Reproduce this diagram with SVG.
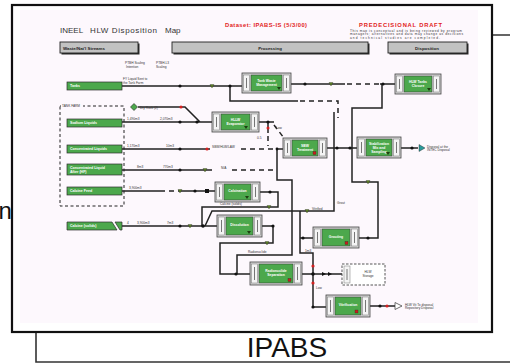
<svg xmlns="http://www.w3.org/2000/svg" width="510" height="364" viewBox="0 0 510 364">
<defs>
<style>
.frame{fill:#fff;stroke:#111;stroke-width:2.2}
.back{fill:none;stroke:#333;stroke-width:1.6}
.bar{fill:#c2c2c2;stroke:#222;stroke-width:0.9}
.sh{fill:#2a2a2a}
.bt{font-family:"Liberation Sans",Arial,sans-serif;font-weight:bold;font-size:4.4px;fill:#222}
.src{fill:#4ca84c;stroke:#2e2e2e;stroke-width:0.7}
.st{font-family:"Liberation Sans",Arial,sans-serif;font-weight:bold;font-size:3.6px;fill:#fff}
.pn{fill:#d6d6d6;stroke:#444;stroke-width:0.8}
.tab{fill:#f4f4f4;stroke:#777;stroke-width:0.5}
.tl{stroke:#555;stroke-width:0.8}
.grn{fill:#4ca84c;stroke:#333;stroke-width:0.5}
.pt{font-family:"Liberation Sans",Arial,sans-serif;font-weight:bold;font-size:3.4px;fill:#fff;text-anchor:middle}
.ln{fill:none;stroke:#222;stroke-width:1.5}
.dl{fill:none;stroke:#222;stroke-width:1.5;stroke-dasharray:5 4}
.dot{fill:#111}
.rd{fill:#d42020}
.gt{fill:#5c7f22;stroke:#222;stroke-width:0.3}
.mk{fill:#1f3f12}
.ms{fill:#c81e1e;stroke:#222;stroke-width:0.3}
.lbl{font-family:"Liberation Sans",Arial,sans-serif;font-size:3.2px;fill:#333}
.red{font-family:"Liberation Sans",Arial,sans-serif;font-weight:bold;fill:#e21b1b}
</style>
</defs>

<!-- back panel -->
<g id="back-panel">
<path class="back" d="M492 35 H512 M36 332 V362 H512"/>
<text x="287" y="357" text-anchor="middle" font-family="'Liberation Sans',Arial,sans-serif" font-size="28" fill="#111">IPABS</text>
</g>
<text x="-1.5" y="219" font-family="'Liberation Sans',Arial,sans-serif" font-size="24" fill="#111">n</text>

<!-- front panel -->
<g id="front-panel">
<rect class="frame" x="12" y="5" width="480" height="327"/>
<rect x="20" y="10" width="458" height="313" fill="#fdf8fd"/>
</g>

<!-- headings -->
<g id="title">
<text x="60" y="33" font-family="'Liberation Sans',Arial,sans-serif" font-size="8" fill="#333">INEEL</text>
<text x="90" y="33" font-family="'Liberation Sans',Arial,sans-serif" font-size="8" fill="#333" textLength="67">HLW Disposition</text>
<text x="165" y="33" font-family="'Liberation Sans',Arial,sans-serif" font-size="8" fill="#333">Map</text>
<text class="red" x="225" y="27" font-size="5.8" textLength="82">Dataset: IPABS-IS (5/3/00)</text>
<text class="red" x="359" y="27" font-size="5.8" textLength="83">PREDECISIONAL DRAFT</text>
<text class="lbl" x="350" y="31.5" font-size="2.6" textLength="112">This map is conceptual and is being reviewed by program</text>
<text class="lbl" x="350" y="35" font-size="2.6" textLength="113">managers; alternatives and data may change as decisions</text>
<text class="lbl" x="350" y="38.5" font-size="2.6" textLength="90">and technical studies are completed.</text>
</g>

<g id="header-streams">
<rect class="sh" x="61.5" y="43.5" width="78" height="11"/>
<rect class="bar" x="60" y="42" width="78" height="11"/>
<text class="bt" x="63" y="49.5">Waste/Nat'l Streams</text>
</g>
<g id="header-processing">
<rect class="sh" x="173.5" y="43.5" width="196" height="11"/>
<rect class="bar" x="172" y="42" width="196" height="11"/>
<text class="bt" x="270" y="49.5" text-anchor="middle">Processing</text>
</g>
<g id="header-disposition">
<rect class="sh" x="389.5" y="43.5" width="79" height="11"/>
<rect class="bar" x="388" y="42" width="79" height="11"/>
<text class="bt" x="427" y="49.5" text-anchor="middle">Disposition</text>
</g>
<g id="subheads">
<text class="lbl" x="125" y="64" font-size="2.8">PTBH Scaling</text>
<text class="lbl" x="126" y="67.5" font-size="2.8">Intention</text>
<text class="lbl" x="156" y="64" font-size="2.8">PTBH-L3</text>
<text class="lbl" x="156" y="67.5" font-size="2.8">Scaling</text>
</g>

<!-- connectors -->
<g id="connectors">
<path class="ln" d="M122 86 H242 M230 86 V101 H298"/>
<path class="dl" d="M300 101 H338 V118"/>
<path class="ln" d="M291 84 H345 M380 84 H395 M382 84 V108 H352 V182 H378 V238 H359"/>
<path class="dl" d="M347 84 H380"/>
<path class="ln" d="M334 112 V211 H212 L205 226"/>
<path class="ln" d="M327 148 H357 M401 148 H418"/>
<path class="ln" d="M122 122 H212 M138 107 H185 L200 122"/>
<path class="ln" d="M259 122 H274 M268 122 V133"/>
<path class="dl" d="M274 125 L284 138 M268 136 V146"/>
<path class="ln" d="M122 149 H210 M277 149 H283 M277 149 V180 H292 V255 H237 V274"/>
<path class="dl" d="M241 149 H277"/>
<path class="ln" d="M122 170 H212"/>
<path class="dl" d="M232 170 H276"/>
<path class="ln" d="M122 191 H160 M178 191 H215"/>
<path class="dl" d="M160 191 H178"/>
<path class="ln" d="M260 192 H278 V207 H202 V226"/>
<path class="ln" d="M121 226 H217"/>
<path class="ln" d="M262 226 H273 V243 H220 V274 H250"/>
<path class="ln" d="M302 274 H342 M300 211 V253 H313 V307 H326 M300 238 H313"/>
<path class="ln" d="M370 306 H395"/>
<!-- dots -->
<circle class="dot" cx="180" cy="86" r="1.6"/>
<circle class="dot" cx="230" cy="86" r="1.6"/>
<circle class="dot" cx="305" cy="84" r="1.6"/>
<circle class="dot" cx="383" cy="84" r="1.6"/>
<circle class="dot" cx="180" cy="122" r="1.6"/>
<circle class="dot" cx="197" cy="122" r="1.6"/>
<circle class="rd" cx="181" cy="107" r="1.6"/>
<circle class="dot" cx="268" cy="122" r="1.6"/>
<circle class="rd" cx="268" cy="128" r="1.5"/>
<circle class="dot" cx="180" cy="149" r="1.6"/>
<circle class="rd" cx="207" cy="149" r="1.6"/>
<circle class="dot" cx="277" cy="149" r="1.4"/>
<circle class="dot" cx="337" cy="148" r="1.6"/>
<circle class="dot" cx="350" cy="148" r="1.6"/>
<circle class="dot" cx="412" cy="148" r="1.6"/>
<circle class="dot" cx="180" cy="170" r="1.6"/>
<circle class="dot" cx="195" cy="191" r="1.6"/>
<rect class="dot" x="205" y="189" width="4" height="4"/>
<circle class="dot" cx="270" cy="192" r="1.6"/>
<circle class="dot" cx="180" cy="226" r="1.6"/>
<circle class="dot" cx="203" cy="226" r="1.8"/>
<circle class="dot" cx="273" cy="226" r="1.6"/>
<circle class="dot" cx="236" cy="274" r="1.6"/>
<circle class="dot" cx="303" cy="238" r="1.6"/>
<circle class="dot" cx="368" cy="238" r="1.6"/>
<circle class="dot" cx="313" cy="274" r="1.8"/>
<circle class="rd" cx="313" cy="266" r="1.6"/>
<circle class="rd" cx="313" cy="283" r="1.6"/>
<circle class="dot" cx="313" cy="307" r="1.6"/>
<circle class="dot" cx="380" cy="306" r="1.6"/>
<circle class="rd" cx="387" cy="306" r="1.6"/>
<!-- green triangles -->
<path class="gt" d="M210 84.5 h4 l-2 3.5z"/>
<path class="gt" d="M329 82.5 h4 l-2 3.5z"/>
<path class="gt" d="M203 168.5 h4 l-2 3.5z"/>
<path class="gt" d="M178 189.5 h4 l-2 3.5z"/>
<path class="gt" d="M188 224.5 h4 l-2 3.5z"/>
<path class="gt" d="M267 205.5 h4 l-2 3.5z"/>
<path class="gt" d="M305 209.5 h4 l-2 3.5z"/>
<path class="gt" d="M366 180.5 h4 l-2 3.5z"/>
<path class="gt" d="M265 241.5 h4 l-2 3.5z"/>
<!-- diamond -->
<path d="M134 103.5 l3.5 3.5 l-3.5 3.5 l-3.5 -3.5z" fill="#4ca84c" stroke="#222" stroke-width="0.6"/>
<!-- arrows -->
<path class="dot" d="M322 272 l4 2 l-4 2z M328 272 l4 2 l-4 2z"/>
<path d="M419 144.5 l6 3.5 l-6 3.5z" fill="#2a9a9a" stroke="#222" stroke-width="0.4"/>
<path d="M395 302.5 l7 3.5 l-7 3.5z" fill="#fff" stroke="#333" stroke-width="0.7"/>
<!-- labels -->
<text class="lbl" x="123" y="80" font-size="2.6">FY Liquid Sent to</text>
<text class="lbl" x="123" y="83.5" font-size="2.6">the Tank Farm</text>
<text class="lbl" x="140" y="108.5" font-size="2.8">Dry Rock (2)</text>
<text class="lbl" x="127" y="120" font-size="2.8">1,490m3</text>
<text class="lbl" x="160" y="120" font-size="2.8">2,070m3</text>
<text class="lbl" x="127" y="147" font-size="2.8">1,170m3</text>
<text class="lbl" x="166" y="147" font-size="2.8">10m3</text>
<text class="lbl" x="212" y="147.5" font-size="2.8">SBW/HLW/LAW</text>
<text class="lbl" x="137" y="168" font-size="2.8">8m3</text>
<text class="lbl" x="163" y="168" font-size="2.8">770m3</text>
<text class="lbl" x="221" y="168.5" font-size="2.8">N/A</text>
<text class="lbl" x="129" y="189" font-size="2.8">3,900m3</text>
<text class="lbl" x="127" y="224" font-size="2.8">4</text>
<text class="lbl" x="137" y="224" font-size="2.8">3,900m3</text>
<text class="lbl" x="167" y="224" font-size="2.8">7m3</text>
<text class="lbl" x="276" y="129" font-size="2.8">Low</text>
<text class="lbl" x="257" y="139" font-size="2.8">0.5</text>
<text class="lbl" x="220" y="205" font-size="2.8">Calcine (solids)</text>
<text class="lbl" x="312" y="210" font-size="2.8">Vitrified</text>
<text class="lbl" x="337" y="204" font-size="2.8">Grout</text>
<text class="lbl" x="248" y="253" font-size="2.8">Radionuclide</text>
<text class="lbl" x="305" y="252" font-size="2.8">1m3</text>
<text class="lbl" x="316" y="289" font-size="2.8">Low</text>
<text class="lbl" x="427" y="147.5" font-size="2.8">Disposal at the</text>
<text class="lbl" x="427" y="151" font-size="2.8">INTEC Disposal</text>
<text class="lbl" x="405" y="305.5" font-size="2.8">HLW Vit To disposal</text>
<text class="lbl" x="405" y="309" font-size="2.8">Repository Disposal</text>
</g>

<!-- waste stream nodes -->
<g id="tank-farm-box">
<rect x="60" y="106" width="64" height="100" fill="none" stroke="#222" stroke-width="1" stroke-dasharray="3 2.5"/>
<rect x="61" y="104.5" width="22" height="3" fill="#fdf8fd"/>
<text class="lbl" x="62" y="107" font-size="2.6">TANK FARM</text>
</g>
<g id="src-tanks"><rect class="src" x="67" y="82" width="55" height="8"/><text class="st" x="70" y="87.3">Tanks</text></g>
<g id="src-sodium"><rect class="src" x="67" y="119" width="55" height="8"/><text class="st" x="70" y="124.3">Sodium Liquids</text></g>
<g id="src-conc"><rect class="src" x="67" y="145" width="55" height="8"/><text class="st" x="70" y="150.3">Concentrated Liquids</text></g>
<g id="src-conc-after"><rect class="src" x="67" y="164" width="55" height="11"/><text class="st" x="70" y="168.5">Concentrated Liquid</text><text class="st" x="70" y="172.5">After (HF)</text></g>
<g id="src-calcine-feed"><rect class="src" x="67" y="187" width="55" height="8"/><text class="st" x="70" y="192.3">Calcine Feed</text></g>
<g id="src-calcine"><path class="src" d="M67 222 H112 L117 230 H67 Z M115 222 H122 L122 230 H120 Z"/><text class="st" x="70" y="227.3">Calcine (solids)</text></g>

<!-- processing nodes -->
<g id="n-twm">
<rect class="pn" x="242" y="73" width="49" height="20"/>
<rect class="tab" x="243.5" y="75" width="6" height="16"/><path class="tl" d="M246.5 78 V88"/>
<rect class="tab" x="283.5" y="75" width="6" height="16"/><path class="tl" d="M286.5 78 V88"/>
<rect class="grn" x="251" y="75" width="31" height="16"/>
<text class="pt" x="266.5" y="82">Tank Waste</text><text class="pt" x="266.5" y="86">Management</text>
<path class="mk" d="M277 87 h4 l-2 3z"/>
</g>
<g id="n-htc">
<rect class="pn" x="395" y="74" width="46" height="20"/>
<rect class="tab" x="396.5" y="76" width="6" height="16"/><path class="tl" d="M399.5 79 V89"/>
<rect class="tab" x="433.5" y="76" width="6" height="16"/><path class="tl" d="M436.5 79 V89"/>
<rect class="grn" x="404" y="76" width="28" height="16"/>
<text class="pt" x="418" y="83">HLW Tanks</text><text class="pt" x="418" y="87">Closure</text>
<path class="mk" d="M427 88 h4 l-2 3z"/>
</g>
<g id="n-evap">
<rect class="pn" x="212" y="112" width="47" height="20"/>
<rect class="tab" x="213.5" y="114" width="6" height="16"/><path class="tl" d="M216.5 117 V127"/>
<rect class="tab" x="251.5" y="114" width="6" height="16"/><path class="tl" d="M254.5 117 V127"/>
<rect class="grn" x="221" y="114" width="29" height="16"/>
<text class="pt" x="235.5" y="121">HLLW</text><text class="pt" x="235.5" y="125">Evaporator</text>
<path class="mk" d="M244 126 h4 l-2 3z"/>
</g>
<g id="n-sbw">
<rect class="pn" x="283" y="138" width="44" height="20"/>
<rect class="tab" x="284.5" y="140" width="6" height="16"/><path class="tl" d="M287.5 143 V153"/>
<rect class="tab" x="319.5" y="140" width="6" height="16"/><path class="tl" d="M322.5 143 V153"/>
<rect class="grn" x="292" y="140" width="26" height="16"/>
<text class="pt" x="305" y="147">SBW</text><text class="pt" x="305" y="151">Treatment</text>
<rect class="ms" x="313" y="151.5" width="3" height="3"/>
</g>
<g id="n-stab">
<rect class="pn" x="357" y="137" width="44" height="21"/>
<rect class="tab" x="358.5" y="139" width="6" height="17"/><path class="tl" d="M361.5 142 V153"/>
<rect class="tab" x="393.5" y="139" width="6" height="17"/><path class="tl" d="M396.5 142 V153"/>
<rect class="grn" x="366" y="139" width="26" height="17"/>
<text class="pt" x="379" y="144.5">Stabilization</text><text class="pt" x="379" y="148.5">Mix and</text><text class="pt" x="379" y="152.5">Sampling</text>
<path class="mk" d="M386 152 h4 l-2 3z"/>
</g>
<g id="n-calc">
<rect class="pn" x="215" y="182" width="45" height="20"/>
<rect class="tab" x="216.5" y="184" width="6" height="16"/><path class="tl" d="M219.5 187 V197"/>
<rect class="tab" x="252.5" y="184" width="6" height="16"/><path class="tl" d="M255.5 187 V197"/>
<rect class="grn" x="224" y="184" width="27" height="16"/>
<text class="pt" x="237.5" y="192">Calcination</text>
<path class="mk" d="M245 196 h4 l-2 3z"/>
</g>
<g id="n-diss">
<rect class="pn" x="217" y="215" width="45" height="22"/>
<rect class="tab" x="218.5" y="217" width="6" height="18"/><path class="tl" d="M221.5 220 V232"/>
<rect class="tab" x="254.5" y="217" width="6" height="18"/><path class="tl" d="M257.5 220 V232"/>
<rect class="grn" x="226" y="217" width="27" height="18"/>
<text class="pt" x="239.5" y="226">Dissolution</text>
<path class="mk" d="M247 231 h4 l-2 3z"/>
</g>
<g id="n-grout">
<rect class="pn" x="313" y="227" width="46" height="21"/>
<rect class="tab" x="314.5" y="229" width="6" height="17"/><path class="tl" d="M317.5 232 V243"/>
<rect class="tab" x="351.5" y="229" width="6" height="17"/><path class="tl" d="M354.5 232 V243"/>
<rect class="grn" x="322" y="229" width="28" height="17"/>
<text class="pt" x="336" y="238">Grouting</text>
<rect class="ms" x="345" y="241.5" width="3" height="3"/>
</g>
<g id="n-rsep">
<rect class="pn" x="250" y="262" width="52" height="23"/>
<rect class="tab" x="251.5" y="264" width="6" height="19"/><path class="tl" d="M254.5 267 V280"/>
<rect class="tab" x="294.5" y="264" width="6" height="19"/><path class="tl" d="M297.5 267 V280"/>
<rect class="grn" x="259" y="264" width="34" height="19"/>
<text class="pt" x="276" y="272">Radionuclide</text><text class="pt" x="276" y="276">Separation</text>
<rect class="ms" x="288" y="278.5" width="3" height="3"/>
</g>
<g id="n-storage">
<rect x="342" y="264" width="43" height="21" fill="#fff" stroke="#444" stroke-width="0.9" stroke-dasharray="2.5 1.5"/>
<rect class="tab" x="344" y="266" width="6" height="17"/><path class="tl" d="M347 269 V280"/>
<text class="lbl" x="368" y="273" text-anchor="middle" font-size="3">HLW</text>
<text class="lbl" x="368" y="277" text-anchor="middle" font-size="3">Storage</text>
</g>
<g id="n-vit">
<rect class="pn" x="326" y="295" width="44" height="22"/>
<rect class="tab" x="327.5" y="297" width="6" height="18"/><path class="tl" d="M330.5 300 V312"/>
<rect class="tab" x="362.5" y="297" width="6" height="18"/><path class="tl" d="M365.5 300 V312"/>
<rect class="grn" x="335" y="297" width="26" height="18"/>
<text class="pt" x="348" y="306">Vitrification</text>
<rect class="ms" x="355" y="310" width="3" height="3"/>
</g>
</svg>
